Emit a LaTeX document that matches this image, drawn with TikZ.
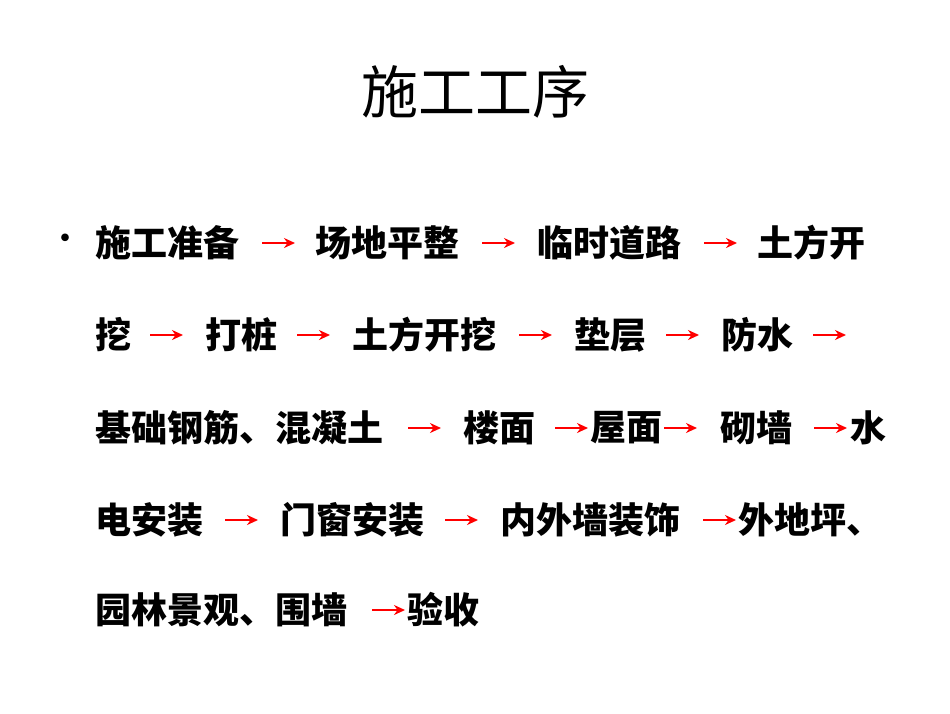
\documentclass[tikz,border=0pt]{standalone}
\usepackage{fontspec}
\newfontfamily\cjk{Noto Sans CJK SC}
\usetikzlibrary{arrows.meta}
\tikzset{seg/.style={anchor=west,inner sep=0pt,font=\cjk\bfseries\fontsize{36}{40}\selectfont},
 arr/.style={red,line width=2pt,-{Stealth[length=11pt,width=10pt]}}}
\newcommand\arr[3]{\draw[arr] (#1,#3) -- (#2,#3);}
\begin{document}
\begin{tikzpicture}[x=1pt,y=-1pt]
\useasboundingbox[fill=white] (0,0) rectangle (950,713);
\node[font=\cjk\fontsize{57}{62}\selectfont,inner sep=0pt] (title) at (475,92) {施工工序};
\node[inner sep=0pt,font=\cjk\fontsize{36}{36}\selectfont] (bul) at (65,243) {•};
% line 1
\node[seg] (a1) at (95,243) {施工准备};
\node[seg] (a2) at (315,243) {场地平整};
\node[seg] (a3) at (537,243) {临时道路};
\node[seg] (a4) at (757,243) {土方开};
\arr{262}{295}{243}\arr{482}{515}{243}\arr{704}{737}{243}
% line 2
\node[seg] (b1) at (95,335) {挖};
\node[seg] (b2) at (205,335) {打桩};
\node[seg] (b3) at (352,335) {土方开挖};
\node[seg] (b4) at (574,335) {垫层};
\node[seg] (b5) at (721,335) {防水};
\arr{150}{183}{335}\arr{297}{330}{335}\arr{519}{552}{335}\arr{666}{699}{335}\arr{813}{846}{335}
% line 3
\node[seg] (c1) at (95,428) {基础钢筋、混凝土};
\node[seg] (c2) at (463,428) {楼面};
\node[seg] (c3) at (590,428) {屋面};
\node[seg] (c4) at (720,428) {砌墙};
\node[seg] (c5) at (850,428) {水};
\arr{408}{441}{428}\arr{555}{588}{428}\arr{664}{697}{428}\arr{814}{847}{428}
% line 4
\node[seg] (d1) at (95,520) {电安装};
\node[seg] (d2) at (280,520) {门窗安装};
\node[seg] (d3) at (500,520) {内外墙装饰};
\node[seg] (d4) at (738,520) {外地坪、};
\arr{225}{258}{520}\arr{445}{478}{520}\arr{703}{736}{520}
% line 5
\node[seg] (e1) at (95,610) {园林景观、围墙};
\node[seg] (e2) at (407,610) {验收};
\arr{372}{405}{610}
\end{tikzpicture}
\end{document}
